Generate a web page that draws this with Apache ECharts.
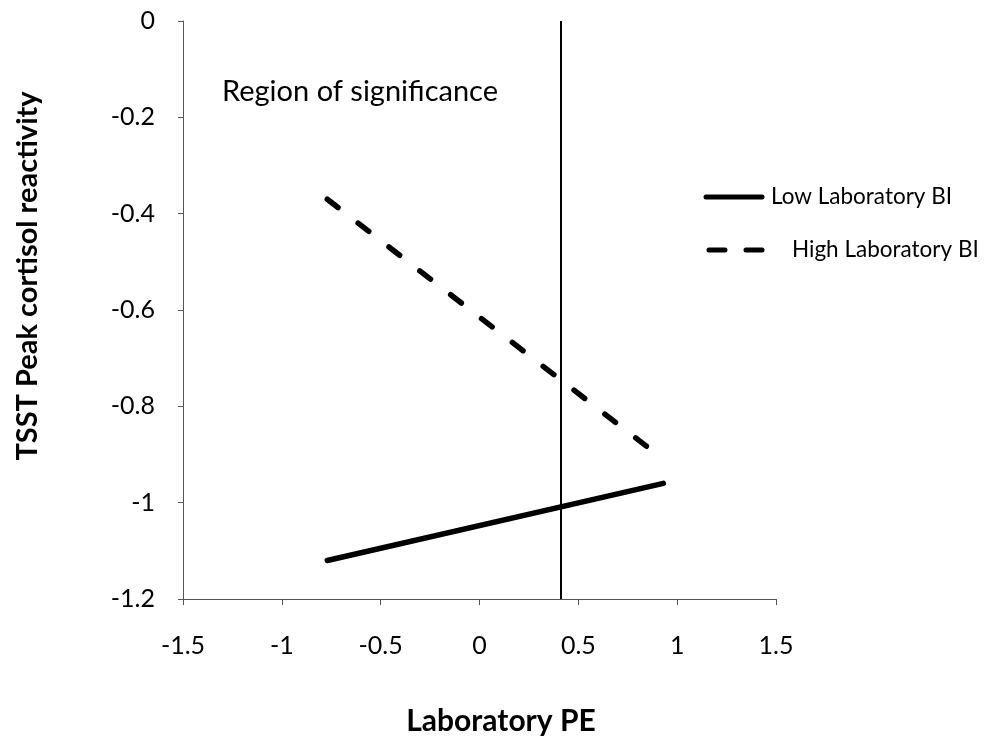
<!DOCTYPE html>
<html>
<head>
<meta charset="utf-8">
<script src="https://cdn.jsdelivr.net/npm/echarts@6/dist/echarts.min.js"></script>
<style>
  html, body { margin: 0; padding: 0; background: #fff; }
  #chart { width: 1005px; height: 736px; }
</style>
</head>
<body>
<div id="chart"></div>
<script>
// data
var peX = [-0.77, 0.93];          // Laboratory PE range of the simple slopes
var lowBI = [-1.12, -0.96];       // Low Laboratory BI
var highBI = [-0.37, -0.91];      // High Laboratory BI
var sigBound = 0.41;              // region of significance boundary
var xTicks = [-1.5, 1.5, 0.5];    // min, max, step
var yTicks = [-1.2, 0, 0.2];

var font = 'Lato, "Open Sans", sans-serif';

function pairs(xs, ys) {
  return xs.map(function (x, i) { return [x, ys[i]]; });
}

var chart = echarts.init(document.getElementById('chart'));

var option = {
  animation: false,
  backgroundColor: '#fff',
  grid: { left: 183, right: 229, top: 21, bottom: 137 },
  xAxis: {
    type: 'value',
    min: xTicks[0], max: xTicks[1], interval: xTicks[2],
    axisLine: { onZero: false, lineStyle: { color: '#555', width: 1 } },
    axisTick: { show: true, length: 6, lineStyle: { color: '#555' } },
    splitLine: { show: false },
    axisLabel: { color: '#000', fontSize: 25, fontFamily: font, margin: 34 }
  },
  yAxis: {
    type: 'value',
    min: yTicks[0], max: yTicks[1], interval: yTicks[2],
    axisLine: { show: true, onZero: false, lineStyle: { color: '#555', width: 1 } },
    axisTick: { show: true, length: 5, lineStyle: { color: '#555' } },
    splitLine: { show: false },
    axisLabel: { color: '#000', fontSize: 25, fontFamily: font, margin: 28 }
  },
  series: [
    {
      name: 'Low Laboratory BI',
      type: 'line',
      data: pairs(peX, lowBI),
      symbol: 'none',
      lineStyle: { color: '#000', width: 5.5, cap: 'round' },
      markLine: {
        silent: true,
        symbol: 'none',
        label: { show: false },
        lineStyle: { color: '#000', width: 2, type: 'solid' },
        data: [{ xAxis: sigBound }]
      }
    },
    {
      name: 'High Laboratory BI',
      type: 'line',
      data: pairs(peX, highBI),
      symbol: 'none',
      lineStyle: { color: '#000', width: 5.5, type: [13.5, 25.5], cap: 'round' }
    }
  ],
  graphic: [
    {
      type: 'text', x: 222, y: 92,
      style: { text: 'Region of significance', fill: '#000', font: '29px ' + font, verticalAlign: 'middle' }
    },
    // legend
    {
      type: 'line', shape: { x1: 706, y1: 197, x2: 762, y2: 197 },
      style: { stroke: '#000', lineWidth: 5, lineCap: 'round' }
    },
    {
      type: 'text', x: 771, y: 197,
      style: { text: 'Low Laboratory BI', fill: '#000', font: '22.5px ' + font, verticalAlign: 'middle' }
    },
    {
      type: 'line', shape: { x1: 709, y1: 250, x2: 768, y2: 250 },
      style: { stroke: '#000', lineWidth: 5, lineCap: 'round', lineDash: [16, 21] }
    },
    {
      type: 'text', x: 792, y: 250,
      style: { text: 'High Laboratory BI', fill: '#000', font: '22.5px ' + font, verticalAlign: 'middle' }
    },
    // axis titles
    {
      type: 'text', x: 28, y: 276, rotation: Math.PI / 2,
      style: { text: 'TSST Peak cortisol reactivity', fill: '#000', font: 'bold 29px ' + font,
               align: 'center', verticalAlign: 'middle' }
    },
    {
      type: 'text', x: 501, y: 721,
      style: { text: 'Laboratory PE', fill: '#000', font: 'bold 30px ' + font,
               align: 'center', verticalAlign: 'middle' }
    }
  ]
};

chart.setOption(option);
</script>
</body>
</html>
